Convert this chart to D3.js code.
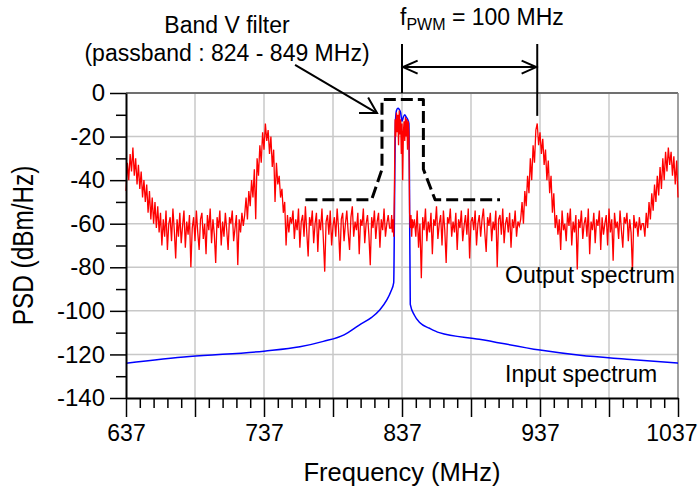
<!DOCTYPE html>
<html><head><meta charset="utf-8">
<script src="https://cdn.jsdelivr.net/npm/d3@7"></script>
<style>
html,body{margin:0;padding:0;background:#fff;}
svg text{font-family:"Liberation Sans",Arial,Helvetica,sans-serif;fill:#000;}
</style></head><body>
<svg id="chart" width="700" height="490"></svg>
<script>
// ---------- data ----------
const xTickLabels = [637, 737, 837, 937, 1037];
const yTickLabels = [0, -20, -40, -60, -80, -100, -120, -140];

// Input spectrum (MHz, dBm/Hz)
const inputFreq = [637,683,737,763,780,795,806,815,821,826,829,831,831.6,832.2,833,834,835,836,837,838,839,840,841,842,842.4,843,846,850,857,864,893,937,966,1000,1037];
const inputPSD  = [-124,-121,-118.5,-116.5,-114,-111,-106.5,-103,-99.5,-95,-91,-87,-50,-14,-8,-7,-7.5,-9,-13,-11,-10,-11,-12,-14,-40,-97,-102,-105.5,-108,-110,-113,-118,-120.4,-122.2,-124];

// Output spectrum, one array per stretch of the band
const out637 = [-45,-32,-40,-28,-36,-25,-38,-30,-42,-33,-44,-36,-48,-40,-50,-42,-55,-45,-58,-48,-60,-50,-62,-52];
const outFloorA = [-64,-55,-70,-58,-66,-54,-72,-60,-57,-68,-53,-63,-76,-58,-66,-55,-69,-61,-54,-71,-59,-65,-56,-80,-62,-57,-68,-54,-64,-72,-58,-55,-67,-60,-74,-56,-63,-53,-69,-58,-65,-78,-57,-62,-54,-70,-59,-66,-55,-63,-72,-57,-60,-54,-68,-62,-56,-79,-58,-64,-55,-61];
const out737 = [-56,-48,-58,-45,-52,-40,-48,-35,-58,-30,-38,-24,-32,-18,-26,-14,-22,-17,-28,-20,-34,-26,-50,-32,-42,-38,-48,-44,-55,-50,-70,-56,-64,-57];
const outFloorB = [-60,-54,-67,-58,-63,-53,-71,-59,-56,-66,-52,-64,-75,-57,-61,-54,-69,-60,-55,-73,-58,-63,-53,-67,-82,-59,-56,-65,-54,-70,-61,-57,-66,-53,-62,-77,-58,-55,-68,-60,-54,-64,-72,-57,-52,-66,-59,-63,-55,-74,-58,-61,-53,-69,-60,-56,-65,-79,-57,-62,-54,-67,-59,-55,-71,-58,-63,-53,-66,-60,-56,-62];
const outSignal = [-62,-56,-64,-58,-66,-45,-12,-20,-9,-18,-10,-24,-8,-19,-12,-28,-14,-40,-18,-13,-22,-11,-20,-12,-26,-13,-18,-55,-62,-56,-66,-58,-62];
const outFloorC = [-58,-66,-54,-71,-60,-85,-57,-63,-53,-68,-59,-64,-55,-74,-58,-61,-52,-67,-60,-56,-70,-54,-63,-78,-57,-60,-53,-66,-59,-64,-55,-72,-58,-62,-54,-68,-61,-56,-65,-53,-76,-59,-57,-63,-54,-70,-60,-56,-66,-58,-53,-64,-73,-57,-61,-55,-68,-59,-63,-54,-80,-58,-56,-65,-53,-69,-60,-57,-64,-55,-71,-58,-62,-54,-66,-59,-61];
const out937 = [-58,-50,-60,-45,-52,-38,-46,-30,-40,-24,-32,-17,-14,-24,-18,-28,-21,-33,-26,-40,-31,-46,-38,-55,-46,-62];
const outFloorD = [-56,-65,-58,-72,-54,-63,-60,-68,-55,-61,-53,-70,-59,-64,-56,-81,-58,-62,-54,-67,-60,-57,-66,-53,-74,-59,-63,-55,-69,-58,-61,-54,-72,-57,-65,-60,-56,-70,-53,-64,-58,-77,-55,-62,-59,-67,-54,-63,-71,-57,-60,-55,-68,-58,-64,-82,-56,-62,-59,-66,-57,-63,-60];
const out1037 = [-60,-66,-55,-62,-50,-58,-46,-54,-42,-50,-38,-47,-34,-44,-30,-40,-27,-36,-25,-33,-27,-38,-29,-42,-31,-48];

// [first bin frequency (MHz), bin width (MHz), values]
const outputSegments = [
  [637, 1, out637], [661, 1, outFloorA], [723, 1, out737], [757, 1, outFloorB],
  [829, 0.5, outSignal], [846, 1, outFloorC], [923, 1, out937], [949, 1, outFloorD], [1012, 1, out1037]
];

// Band V filter outline
const filterFreq = [767, 815, 822.5, 822.5, 852.5, 852.5, 861, 908];
const filterPSD  = [-49, -49, -35, -3, -3, -35, -49, -49];

// PWM spacing markers (MHz)
const pwmFreqs = [837, 935];

// ---------- drawing ----------
const svg = d3.select('#chart');
const x = d3.scaleLinear().domain([637, 1037]).range([126, 678]);
const y = d3.scaleLinear().domain([-140, 0]).range([398, 93]);

// grid
svg.append('g').selectAll('line').data(d3.range(687, 1037, 50)).join('line')
  .attr('x1', d => x(d)).attr('x2', d => x(d)).attr('y1', y(-140)).attr('y2', y(0))
  .attr('stroke', '#c8c8c8').attr('stroke-width', 1.5);
svg.append('g').selectAll('line').data(d3.range(-120, 0, 20)).join('line')
  .attr('x1', x(637)).attr('x2', x(1037)).attr('y1', d => y(d)).attr('y2', d => y(d))
  .attr('stroke', '#c8c8c8').attr('stroke-width', 1.5);

// frame top/right
svg.append('line').attr('x1', x(637)).attr('x2', x(1037)).attr('y1', y(0)).attr('y2', y(0))
  .attr('stroke', '#707070').attr('stroke-width', 2);
svg.append('line').attr('x1', x(1037)).attr('x2', x(1037)).attr('y1', y(0)).attr('y2', y(-140))
  .attr('stroke', '#808080').attr('stroke-width', 1.5);

// input spectrum
const inputPts = inputFreq.map((f, i) => ({ f, v: inputPSD[i] }));
svg.append('path').datum(inputPts)
  .attr('d', d3.line().x(d => x(d.f)).y(d => y(d.v)).curve(d3.curveMonotoneX))
  .attr('fill', 'none').attr('stroke', '#0000ff').attr('stroke-width', 1.5);

// output spectrum
const outputPts = outputSegments.flatMap(([f0, step, vals]) => vals.map((v, i) => ({ f: f0 + i * step, v })));
svg.append('path').datum(outputPts)
  .attr('d', d3.line().x(d => x(d.f)).y(d => y(d.v)))
  .attr('fill', 'none').attr('stroke', '#ff0000').attr('stroke-width', 1.3)
  .attr('stroke-linejoin', 'miter');

// filter mask
const filterPts = filterFreq.map((f, i) => ({ f, v: filterPSD[i] }));
svg.append('path').datum(filterPts)
  .attr('d', d3.line().x(d => x(d.f)).y(d => y(d.v)))
  .attr('fill', 'none').attr('stroke', '#000').attr('stroke-width', 3)
  .attr('stroke-dasharray', '12,5').attr('stroke-linejoin', 'round');

// axes
const yMajor = svg.append('g').attr('transform', `translate(${x(637)},0)`)
  .call(d3.axisLeft(y).tickValues(yTickLabels).tickSize(16).tickSizeOuter(0).tickPadding(5).tickFormat(d => String(d)));
const yMinor = svg.append('g').attr('transform', `translate(${x(637)},0)`)
  .call(d3.axisLeft(y).tickValues(d3.range(-130, 0, 20)).tickSize(10).tickSizeOuter(0).tickFormat(''));
yMinor.select('.domain').remove();
const xMajor = svg.append('g').attr('transform', `translate(0,${y(-140)})`)
  .call(d3.axisBottom(x).tickValues(d3.range(637, 1038, 50)).tickSize(19).tickSizeOuter(0).tickPadding(8)
    .tickFormat(d => xTickLabels.includes(d) ? String(d) : ''));
const xMinor = svg.append('g').attr('transform', `translate(0,${y(-140)})`)
  .call(d3.axisBottom(x).tickValues(d3.range(647, 1037, 10).filter(d => (d - 637) % 50 !== 0)).tickSize(10).tickSizeOuter(0).tickFormat(''));
xMinor.select('.domain').remove();
[yMajor, yMinor, xMajor, xMinor].forEach(g => {
  g.selectAll('line').attr('stroke', '#000').attr('stroke-width', 1.5);
  g.selectAll('.domain').attr('stroke', '#000').attr('stroke-width', 2);
  g.selectAll('text').attr('font-size', 23).attr('font-family', '"Liberation Sans",Arial,sans-serif').attr('fill', '#000');
});
yMajor.selectAll('text').attr('font-size', 24);
// the last frequency label sits flush with the right edge
xMajor.selectAll('.tick').filter(d => d === 1037).select('text')
  .attr('text-anchor', 'end').attr('x', 19);

// axis titles
svg.append('text').attr('transform', `translate(33,${(y(0) + y(-140)) / 2}) rotate(-90) scale(0.84,1)`)
  .attr('text-anchor', 'middle').attr('font-size', 29).text('PSD (dBm/Hz)');
svg.append('text').attr('x', (x(637) + x(1037)) / 2).attr('y', 481)
  .attr('text-anchor', 'middle').attr('font-size', 25.5).text('Frequency (MHz)');

// series labels
svg.append('text').attr('x', 505).attr('y', 283).attr('font-size', 23).text('Output spectrum');
svg.append('text').attr('x', 505).attr('y', 382).attr('font-size', 23).text('Input spectrum');

// annotations
function arrowHead(tip, from, len, halfAngle) {
  const a = Math.atan2(tip[1] - from[1], tip[0] - from[0]);
  const p1 = [tip[0] - len * Math.cos(a - halfAngle), tip[1] - len * Math.sin(a - halfAngle)];
  const p2 = [tip[0] - len * Math.cos(a + halfAngle), tip[1] - len * Math.sin(a + halfAngle)];
  return `M${p1[0]},${p1[1]}L${tip[0]},${tip[1]}L${p2[0]},${p2[1]}`;
}
const ann = svg.append('g').attr('stroke', '#000').attr('fill', 'none').attr('stroke-width', 2);

// Band V filter pointer
const bStart = [x(759.5), y(12.9)], bTip = [x(818.9), y(-9.2)];
ann.append('line').attr('x1', bStart[0]).attr('y1', bStart[1]).attr('x2', bTip[0]).attr('y2', bTip[1]);
ann.append('path').attr('d', arrowHead(bTip, bStart, 18, Math.PI / 6));

// f_PWM spacing
const pwmLineTop = y(22.5);
ann.append('line').attr('x1', x(pwmFreqs[0])).attr('x2', x(pwmFreqs[0])).attr('y1', pwmLineTop).attr('y2', y(0));
ann.append('line').attr('x1', x(pwmFreqs[1])).attr('x2', x(pwmFreqs[1])).attr('y1', pwmLineTop).attr('y2', y(-10.5));
const yArr = y(11.9);
const aL = [x(pwmFreqs[0]) + 1, yArr], aR = [x(pwmFreqs[1]) - 1, yArr];
ann.append('line').attr('x1', aL[0]).attr('y1', yArr).attr('x2', aR[0]).attr('y2', yArr);
ann.append('path').attr('d', arrowHead(aL, aR, 16, 0.42));
ann.append('path').attr('d', arrowHead(aR, aL, 16, 0.42));

svg.append('text').attr('x', 227).attr('y', 33).attr('text-anchor', 'middle').attr('font-size', 23).text('Band V filter');
svg.append('text').attr('x', 227).attr('y', 61).attr('text-anchor', 'middle').attr('font-size', 23).text('(passband : 824 - 849 MHz)');
const ft = svg.append('text').attr('x', 400).attr('y', 25).attr('font-size', 23);
ft.append('tspan').text('f');
ft.append('tspan').attr('font-size', 16).attr('dy', 5).text('PWM');
ft.append('tspan').attr('dy', -5).text(' = 100 MHz');
</script>
</body></html>
